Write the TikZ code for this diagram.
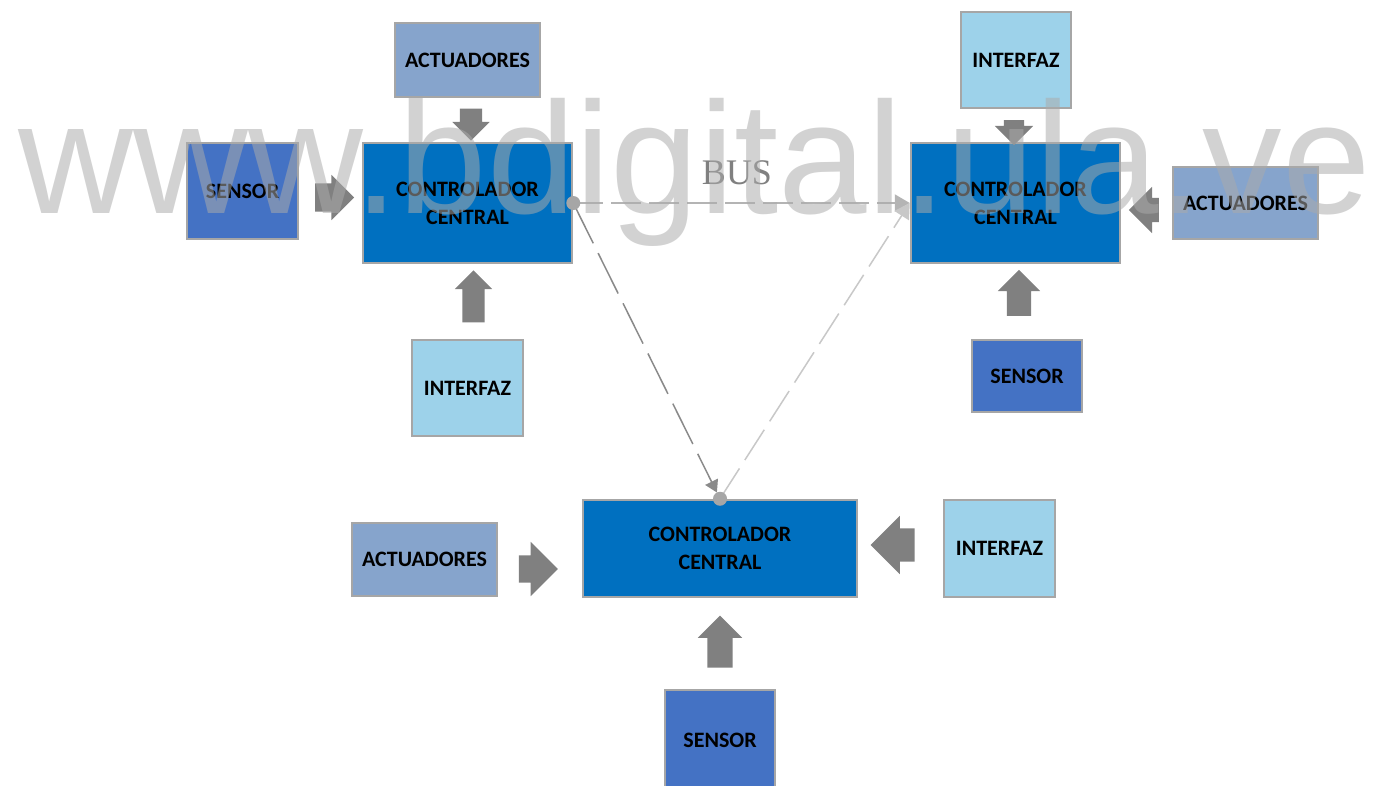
\documentclass[tikz,border=0pt]{standalone}
\usepackage{fontspec}
\setmainfont{Carlito}
\newfontfamily\wmfont{Liberation Sans}
\newfontfamily\busfont{Liberation Serif}
\usetikzlibrary{shapes.arrows}
\usetikzlibrary{arrows.meta}
\definecolor{ctrlblue}{HTML}{0070C0}
\definecolor{sensblue}{HTML}{4472C4}
\definecolor{actblue}{HTML}{86A4CC}
\definecolor{intblue}{HTML}{9DD2EA}
\definecolor{arrowgray}{HTML}{808080}
\definecolor{edgegray}{HTML}{A6A6A6}
\definecolor{busgray}{HTML}{B4B4B4}
\definecolor{linkdark}{HTML}{8A8A8A}
\definecolor{linklight}{HTML}{C8C8C8}
\definecolor{wmgray}{HTML}{ABABAB}

\begin{document}
\begin{tikzpicture}[x=1pt,y=-1pt,
  box/.style={draw=edgegray, line width=2.5pt, inner sep=0pt, align=center, font=\fontsize{22}{28}\selectfont\bfseries},
  ctrl/.style={box, fill=ctrlblue, minimum width=209pt, minimum height=120pt},
  sens/.style={box, fill=sensblue, minimum width=111pt, minimum height=96pt},
  actu/.style={box, fill=actblue, minimum width=145pt, minimum height=73pt},
  intf/.style={box, fill=intblue, minimum width=111pt, minimum height=96pt},
  blockarrow/.style n args={3}{single arrow, draw=none, fill=arrowgray, inner xsep=0pt, minimum height=#1, inner ysep=#2, single arrow head extend=#3},
  dot/.style={circle, fill=edgegray, inner sep=0pt, minimum size=14pt},
  busline/.style={draw=busgray, line width=2pt, dash pattern=on 30pt off 8pt, -{Triangle[length=15pt,width=17pt]}},
  linkone/.style={draw=linkdark, line width=1.5pt, dash pattern=on 45pt off 11pt, shorten >=7pt, -{Triangle[length=12pt,width=14pt]}},
  linktwo/.style={draw=linklight, line width=1.5pt, dash pattern=on 36pt off 10pt, -{Triangle[length=15pt,width=17pt]}}
]
\fill[white] (0,0) rectangle (1385,785);
\useasboundingbox (0,0) rectangle (1385,785);

% first controller, top left
\node[ctrl] (ctrl1) at (467.5,203) {CONTROLADOR\\CENTRAL};
\node[actu, minimum height=74pt] (act1) at (467.5,60) {ACTUADORES};
\node[sens] (sens1) at (242.5,191) {SENSOR};
\node[intf] (intf1) at (467.5,388) {INTERFAZ};
\node[blockarrow={32pt}{11pt}{7.5pt}, rotate=270] (ar1) at (471,119) {};
\node[blockarrow={39pt}{14pt}{8.5pt}] (ar2) at (327.5,197.5) {};
\node[blockarrow={52pt}{11pt}{7.5pt}, rotate=90] (ar3) at (473.5,302) {};

% second controller, top right
\node[ctrl] (ctrl2) at (1015.5,203) {CONTROLADOR\\CENTRAL};
\node[intf, minimum width=110pt] (intf2) at (1016,60) {INTERFAZ};
\node[actu, minimum height=72pt] (act2) at (1245.5,203) {ACTUADORES};
\node[sens, minimum width=110pt, minimum height=72pt] (sens2) at (1027,376) {SENSOR};
\node[blockarrow={25pt}{10pt}{9pt}, rotate=270] (ar4) at (1014,127.5) {};
\node[blockarrow={30pt}{12pt}{11pt}, rotate=180] (ar5) at (1150,210) {};
\node[blockarrow={46pt}{12pt}{9pt}, rotate=90] (ar6) at (1019,299) {};

% third controller, bottom
\node[ctrl, minimum width=274pt, minimum height=97pt] (ctrl3) at (720,548.5) {CONTROLADOR\\CENTRAL};
\node[actu] (act3) at (424.5,559.5) {ACTUADORES};
\node[intf, minimum height=97pt] (intf3) at (999.5,548.5) {INTERFAZ};
\node[sens, minimum width=110pt, minimum height=100pt] (sens3) at (720,740) {SENSOR};
\node[blockarrow={39pt}{13.5pt}{13.5pt}] (ar7) at (531.5,569) {};
\node[blockarrow={44pt}{16.5pt}{12.5pt}, rotate=180] (ar8) at (901,545) {};
\node[blockarrow={52pt}{12.5pt}{9.5pt}, rotate=90] (ar9) at (720,648) {};

% bus
\coordinate (bus1) at (ctrl1.east);
\coordinate (bus3) at (ctrl3.north);
\draw[busline] (bus1) -- (ctrl2.west);
\draw[linkone] (bus1) -- (bus3);
\draw[linktwo] (bus3) -- (ctrl2.west);
\node[dot] (dot1) at (bus1) {};
\node[dot] (dot3) at (bus3) {};
\node[font=\busfont\fontsize{36}{40}\selectfont, text=arrowgray] (buslbl) at (737,173) {BUS};

% watermark
\node[anchor=base, inner sep=0pt, font=\wmfont\fontsize{159}{160}\selectfont, text=wmgray, text opacity=0.53] (wm) at (695,213) {www.bdigital.ula.ve};
\end{tikzpicture}
\end{document}
